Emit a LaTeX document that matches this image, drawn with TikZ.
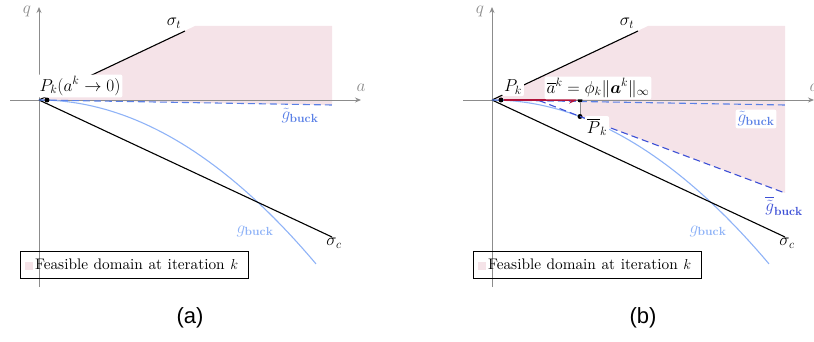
\documentclass[tikz,border=0pt]{standalone}
\usepackage{amsmath,bm}
\usepackage{fontspec}
\setmainfont{lmroman10-regular}[Extension=.otf, BoldFont=lmroman10-bold, ItalicFont=lmroman10-italic]
\newfontfamily\capfont{Liberation Sans}
\usetikzlibrary{arrows.meta}
\definecolor{feas}{HTML}{F5E3E8}
\definecolor{gbuckc}{HTML}{8FB3F7}
\definecolor{gtilc}{HTML}{5A80E6}
\definecolor{gbarc}{HTML}{3D50D6}
\definecolor{arrred}{HTML}{B0133A}
\definecolor{axisgray}{HTML}{8C8C8C}
\newcommand\legendfont{\fontsize{15.3}{17}\selectfont}
\tikzset{
  axisline/.style={draw=axisgray, line width=0.9pt, -{Stealth[length=6pt,width=5pt]}},
  axislabel/.style={text=axisgray, inner sep=0pt},
  sigline/.style={black, line width=1.1pt},
  gbuckline/.style={gbuckc, line width=1.1pt},
  gtilline/.style={gtilc, line width=1.1pt, dash pattern=on 7pt off 4pt},
  gbarline/.style={gbarc, line width=1.1pt, dash pattern=on 7pt off 4pt},
  dotnode/.style={circle, fill=black, inner sep=0pt, minimum size=5pt},
  whitelabel/.style={fill=white, rounded corners=2pt, inner sep=2pt},
  plainlabel/.style={inner sep=1pt},
  legendbox/.style={draw=black, line width=0.8pt, inner xsep=4pt, inner ysep=3pt, minimum height=27pt, text width=220pt, align=left},
  captionlabel/.style={font=\capfont\fontsize{22}{24}\selectfont, inner sep=0pt},
}
\newcommand\panelbase[1]{%
  \coordinate (O#1) at (39,100);
  \coordinate (Astart#1) at (10,100);
  \coordinate (Aend#1) at (361,100);
  \coordinate (Qbot#1) at (39,287);
  \coordinate (Qtop#1) at (39,7);
  \coordinate (St#1) at (185,31);
  \coordinate (Sc#1) at (332,237);
  \draw[axisline] (Astart#1) -- (Aend#1);
  \draw[axisline] (Qbot#1) -- (Qtop#1);
  \node[axislabel] (qlab#1) at (27,11) {$q$};
  \node[axislabel] (alab#1) at (361,88) {$a$};
  \draw[gbuckline] plot[domain=39:316, samples=80] (\x, {100+0.00214*(\x-39)*(\x-39)});
  \draw[sigline] (O#1) -- (St#1);
  \draw[sigline] (O#1) -- (Sc#1);
  \node[plainlabel] (stlab#1) at (174,23) {$\sigma_t$};
  \node[plainlabel] (sclab#1) at (334,243) {$\sigma_c$};
  \node[plainlabel, text=gbuckc] (gblab#1) at (255,231) {$g_{\mathbf{buck}}$};
  \node[legendbox] (leg#1) at (134.5,264.5) {\legendfont\textcolor{feas}{\rule{8pt}{8pt}}\,Feasible domain at iteration $k$};
}
\begin{document}
\begin{tikzpicture}[x=1pt, y=-1pt, font=\fontsize{16.8}{19}\selectfont]
\useasboundingbox (0,0) rectangle (814,342);
% ---------------- panel (a)
\begin{scope}
  \fill[feas] (39,100) -- (195,26) -- (332,26) -- (332,105) -- cycle;
  \panelbase{a}
  \coordinate (Gt a) at (332,105);
  \draw[gtilline] (Oa) -- (Gt a);
  \node[plainlabel, text=gtilc] (gtlab a) at (300,116) {$\tilde{g}_{\mathbf{buck}}$};
  \node[dotnode] (Pk a) at (47,100) {};
  \node[whitelabel] (Pklab a) at (80,86) {$P_k(a^k \to 0)$};
  \node[captionlabel] (cap a) at (190,318) {(a)};
\end{scope}
% ---------------- panel (b)
\begin{scope}[xshift=453pt]
  \fill[feas] (39,100) -- (195,26) -- (332,26) -- (332,193) -- (127,116.5) -- (127,100) -- cycle;
  \panelbase{b}
  \coordinate (Gt b) at (332,105);
  \coordinate (Gbs b) at (86,100.5);
  \coordinate (Gbe b) at (332,193);
  \draw[gtilline] (Ob) -- (Gt b);
  \node[dotnode] (Pk b) at (48,100) {};
  \node[dotnode] (Ab b) at (127,100) {};
  \node[dotnode] (Pb b) at (127,116.5) {};
  \draw[gbarline] (Gbs b) -- (Pb b.center) -- (Gbe b);
  \draw[axisgray, line width=0.9pt] (Ab b) -- (Pb b);
  \draw[arrred, line width=2.2pt, -{Stealth[length=8pt,width=7pt]}] (Pk b) -- (Ab b);
  \node[whitelabel, text=gtilc] (gtlab b) at (303,119) {$\tilde{g}_{\mathbf{buck}}$};
  \node[plainlabel, text=gbarc] (gbarlab b) at (331,206) {$\overline{\tilde{g}}_{\mathbf{buck}}$};
  \node[whitelabel] (Pklab b) at (60,87) {$P_k$};
  \node[whitelabel] (ablab b) at (145,88) {$\overline{a}^k = \phi_k \|\bm{a}^k\|_\infty$};
  \node[whitelabel] (Pblab b) at (144,127) {$\overline{P}_k$};
  \node[captionlabel] (cap b) at (190,318) {(b)};
\end{scope}
\end{tikzpicture}
\end{document}
